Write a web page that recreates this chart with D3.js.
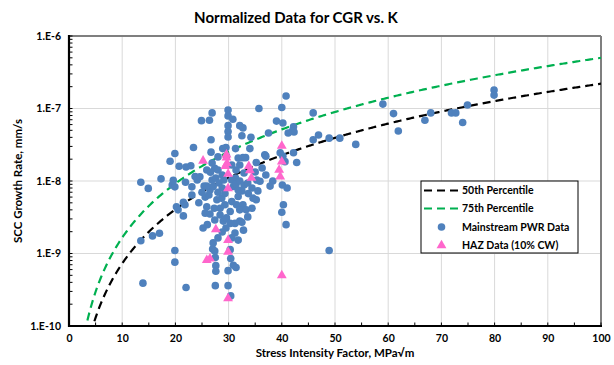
<!DOCTYPE html>
<html><head><meta charset="utf-8">
<script src="https://cdn.jsdelivr.net/npm/d3@7"></script>
<style>
body{margin:0;background:#fff;}
svg text{font-family:Lato,"Open Sans",sans-serif;font-weight:bold;fill:#000;}
</style></head><body>
<svg id="chart" width="614" height="365"></svg>
<script>
// Mainstream PWR data: stress intensity factor (MPa√m) and crack growth rate (mm/s)
const mainK = [35.7,29.9,29.9,26.9,26.4,24.9,30.8,29.9,29.9,29.9,32.7,32.5,34.2,26.7,23.4,26.7,28.9,29.5,31.3,34.0,
  19.9,19.0,20.7,22.0,22.9,28.0,29.6,32.7,33.2,35.2,27.4,25.9,26.6,23.7,21.9,17.3,13.5,14.9,19.4,19.9,
  23.1,31.3,40.8,40.0,32.1,39.0,40.2,37.5,42.3,36.8,42.2,42.8,40.1,41.0,21.5,20.2,32.5,33.7,34.6,31.8,
  40.3,40.0,40.8,32.8,31.2,27.0,27.4,27.5,30.3,30.4,30.9,31.4,27.6,27.6,29.9,27.5,29.9,30.4,22.0,19.9,
  19.9,17.0,15.7,21.5,20.5,21.8,25.2,26.0,45.9,59.0,61.0,68.0,66.9,71.9,72.7,61.9,42.2,42.0,41.2,45.9,
  46.9,48.9,50.9,53.9,37.0,39.7,40.2,40.6,35.9,38.3,74.0,74.9,79.9,79.9,48.9,13.9,13.5,19.6,23.1,25.6,
  25.9,27.4,28.4,29.0,29.6,30.3,31.2,32.1,27.8,28.7,29.3,30.6,31.5,26.5,27.1,30.9,31.8,30.3,
  24.1,24.6,25.4,25.9,25.0,25.6,24.4,26.3,26.9,27.6,28.2,28.8,28.0,29.1,30.6,31.4,32.1,32.9,33.6,34.4,
  32.7,32.1,33.3,29.3,28.4,27.3,26.5,29.5,28.8,28.0,27.1,30.6,31.8,32.5,33.6,34.4,35.2,35.5,26.9,28.0,
  28.8,31.4,32.1,30.6,32.9,31.8,35.0,36.3,37.0,37.8,35.3];
const mainCGR = [1.0e-7,9.5e-8,7.9e-8,8.7e-8,6.9e-8,6.8e-8,7.1e-8,5.8e-8,4.8e-8,4.05e-8,5.4e-8,4.2e-8,4.0e-8,3.7e-8,2.9e-8,2.5e-8,2.8e-8,2.9e-8,2.8e-8,2.8e-8,
  2.4e-8,1.87e-8,1.6e-8,1.56e-8,1.62e-8,2.15e-8,2.2e-8,2.1e-8,2.1e-8,1.8e-8,1.5e-8,1.42e-8,1.32e-8,1.15e-8,9.6e-9,1.07e-8,9.6e-9,7.9e-9,8.8e-9,8.3e-9,
  8.3e-9,1.1e-8,1.49e-7,1.03e-7,5.8e-8,6.7e-8,6.3e-8,4.6e-8,4.75e-8,2.3e-8,2.45e-8,1.8e-8,8.8e-9,8.0e-9,5.1e-9,4.4e-9,7.3e-9,6.7e-9,5.8e-9,6.1e-9,
  4.7e-9,3.7e-9,2.5e-9,2.1e-9,1.92e-9,1.15e-9,1.08e-9,8.8e-10,1.13e-9,8.5e-10,6.9e-10,6.4e-10,6.8e-10,5.7e-10,5.8e-10,3.6e-10,3.6e-10,2.6e-10,3.4e-10,1.1e-9,
  7.6e-10,1.9e-9,1.75e-9,3.3e-9,4.0e-9,4.7e-9,2.25e-9,2.5e-9,8.7e-8,1.15e-7,8.5e-8,8.7e-8,6.9e-8,8.7e-8,8.7e-8,4.9e-8,5.6e-8,4.9e-8,4.6e-8,3.7e-8,
  4.3e-8,3.9e-8,3.9e-8,3.2e-8,2.2e-8,2.45e-8,2.2e-8,1.85e-8,9.9e-9,1.0e-8,6.4e-8,1.12e-7,1.8e-7,1.53e-7,1.1e-9,3.9e-10,1.5e-9,1.02e-8,6.4e-9,3.6e-9,
  4.4e-9,2.9e-9,3.4e-9,2.8e-9,3.1e-9,2.6e-9,2.6e-9,2.8e-9,5.5e-9,5.8e-9,6.7e-9,5.2e-9,4.7e-9,7.5e-9,8.4e-9,8.4e-9,7.5e-9,3.8e-9,
  1.03e-8,1.14e-8,8.5e-9,8.5e-9,7.0e-9,6.0e-9,5.0e-9,6.4e-9,1.03e-8,1.1e-8,9.4e-9,8.0e-9,7.0e-9,1.03e-8,1.03e-8,9.1e-9,1.0e-8,8.8e-9,9.4e-9,8.0e-9,
  4.7e-9,4.0e-9,4.0e-9,4.7e-9,4.2e-9,4.2e-9,3.5e-9,2.25e-9,1.98e-9,1.64e-9,1.4e-9,1.64e-9,1.53e-9,2.7e-9,3.2e-9,4.2e-9,5.5e-9,7.3e-9,1.77e-8,1.42e-8,
  1.21e-8,1.42e-8,1.66e-8,1.66e-8,1.29e-8,2.07e-8,1.33e-8,1.51e-8,1.21e-8,8.5e-9,1.03e-8];

// HAZ data (10% cold work)
const hazK = [25.2,29.6,29.6,29.7,29.4,29.9,33.8,34.0,34.3,40.0,40.0,39.5,39.7,29.9,27.6,29.9,29.9,25.9,26.5,40.0,29.9];
const hazCGR = [1.9e-8,2.3e-8,2.1e-8,1.75e-8,1.6e-8,1.25e-8,1.6e-8,1.4e-8,1.1e-8,3.05e-8,1.85e-8,1.42e-8,1.15e-8,7.9e-9,2.15e-9,1.53e-9,1.05e-9,8.1e-10,8.5e-10,5.0e-10,2.4e-10];

// Percentile disposition curves: CGR = coef * K^exponent
const curveNames = ["50th Percentile", "75th Percentile"];
const curveCoef = [2.41e-12, 5.48e-12];
const curveExp = [2.48, 2.48];
const curveColors = ["#000000", "#00b050"];

const xTicks = [0,10,20,30,40,50,60,70,80,90,100];
const yTicks = [1e-10,1e-9,1e-8,1e-7,1e-6];
const yTickLabels = ["1.E-10","1.E-9","1.E-8","1.E-7","1.E-6"];

const L = 69, R = 601, T = 36, B = 326;
const svg = d3.select("#chart");

const x = d3.scaleLinear().domain([0,100]).range([L,R]);
const y = d3.scaleLog().domain([1e-10,1e-6]).range([B,T]);

// gridlines
const grid = svg.append("g").attr("stroke","#d9d9d9").attr("stroke-width",1);
xTicks.slice(1,-1).forEach(v => grid.append("line").attr("x1",x(v)).attr("x2",x(v)).attr("y1",T).attr("y2",B));
yTicks.slice(1,-1).forEach(v => grid.append("line").attr("x1",L).attr("x2",R).attr("y1",y(v)).attr("y2",y(v)));

// frame: grey top/right
svg.append("line").attr("x1",L).attr("x2",R).attr("y1",T).attr("y2",T).attr("stroke","#7f7f7f").attr("stroke-width",2);
svg.append("line").attr("x1",R).attr("x2",R).attr("y1",T).attr("y2",B).attr("stroke","#7f7f7f").attr("stroke-width",2);

svg.append("clipPath").attr("id","plotclip").append("rect").attr("x",L).attr("y",T).attr("width",R-L).attr("height",B-T);

// percentile curves
const line = d3.line().x(d => x(d[0])).y(d => y(d[1]));
const kSamples = d3.range(2.5, 100.001, 0.25);
curveNames.forEach((n,i) => {
  const pts = kSamples.map(k => [k, curveCoef[i]*Math.pow(k, curveExp[i])]);
  svg.append("path").attr("clip-path","url(#plotclip)")
    .attr("d", line(pts)).attr("fill","none")
    .attr("stroke", curveColors[i]).attr("stroke-width",2.2)
    .attr("stroke-dasharray","8,5");
});

// mainstream points
const mainData = mainK.map((k,i) => [k, mainCGR[i]]);
svg.append("g").selectAll("circle").data(mainData).join("circle")
  .attr("cx", d => x(d[0])).attr("cy", d => y(d[1])).attr("r",3.8)
  .attr("fill","#4f81bd");

// HAZ points
const tri = d3.symbol().type(d3.symbolTriangle).size(42);
const hazData = hazK.map((k,i) => [k, hazCGR[i]]);
svg.append("g").selectAll("path").data(hazData).join("path")
  .attr("d", tri).attr("transform", d => `translate(${x(d[0])},${y(d[1])})`)
  .attr("fill","#ff66cc");

// axes
const xAxis = d3.axisBottom(x).tickValues(xTicks).tickSize(0).tickPadding(9).tickFormat(d3.format("d"));
const gx = svg.append("g").attr("transform",`translate(0,${B})`).call(xAxis);
gx.select(".domain").remove();
gx.selectAll("text").attr("font-size",10.5).attr("font-weight","bold").attr("font-family","Lato");

const yAxis = d3.axisLeft(y).tickValues(yTicks).tickSize(0).tickPadding(8).tickFormat((d,i) => yTickLabels[i]);
const gy = svg.append("g").attr("transform",`translate(${L},0)`).call(yAxis);
gy.select(".domain").remove();
gy.selectAll("text").attr("font-size",10.5).attr("font-weight","bold").attr("font-family","Lato");

// minor ticks
const minors = [];
for (let e=-10; e<-6; e++) for (let m=1; m<=9; m++) minors.push(m*Math.pow(10,e));
minors.push(1e-6);
svg.append("g").selectAll("line").data(minors).join("line")
  .attr("x1",L).attr("x2",L+3.5).attr("y1",d=>y(d)).attr("y2",d=>y(d))
  .attr("stroke","#000").attr("stroke-width",1);
svg.append("g").selectAll("line").data(d3.range(0,101,5)).join("line")
  .attr("x1",d=>x(d)).attr("x2",d=>x(d)).attr("y1",B).attr("y2",B-3.5)
  .attr("stroke","#000").attr("stroke-width",1);

svg.append("line").attr("x1",L).attr("x2",L).attr("y1",T-1).attr("y2",B+1).attr("stroke","#000").attr("stroke-width",2.2);
svg.append("line").attr("x1",L-1).attr("x2",R+1).attr("y1",B).attr("y2",B).attr("stroke","#000").attr("stroke-width",2.2);

// titles
svg.append("text").attr("x",296).attr("y",23).attr("text-anchor","middle").attr("font-size",15).text("Normalized Data for CGR vs. K");
svg.append("text").attr("x",335).attr("y",357).attr("text-anchor","middle").attr("font-size",11.5).text("Stress Intensity Factor, MPa√m");
svg.append("text").attr("transform",`translate(22,${(T+B)/2}) rotate(-90)`).attr("text-anchor","middle").attr("font-size",11.5).text("SCC Growth Rate, mm/s");

// legend
const lg = svg.append("g");
lg.append("rect").attr("x",421).attr("y",181).attr("width",157).attr("height",72).attr("fill","#fff").attr("stroke","#000").attr("stroke-width",1);
const rows = [190.5, 208.5, 227, 245.5];
const legendLabels = [curveNames[0], curveNames[1], "Mainstream PWR Data", "HAZ Data (10% CW)"];
[0,1].forEach(i => lg.append("line").attr("x1",424).attr("x2",460).attr("y1",rows[i]).attr("y2",rows[i])
  .attr("stroke",curveColors[i]).attr("stroke-width",2.2).attr("stroke-dasharray","8,5"));
lg.append("circle").attr("cx",441.5).attr("cy",rows[2]).attr("r",3.8).attr("fill","#4f81bd");
lg.append("path").attr("d",tri).attr("transform",`translate(441.5,${rows[3]})`).attr("fill","#ff66cc");
legendLabels.forEach((t,i) => lg.append("text").attr("x",462).attr("y",rows[i]+3.6).attr("font-size",10.5).text(t));
</script>
</body></html>
